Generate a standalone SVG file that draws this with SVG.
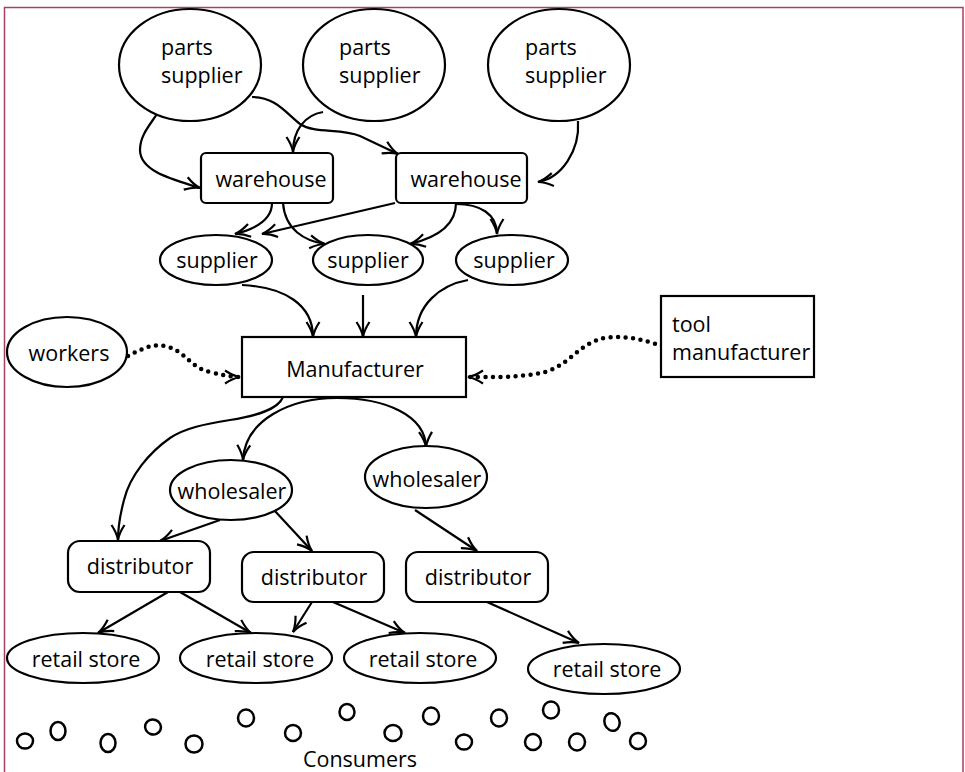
<svg xmlns="http://www.w3.org/2000/svg" width="965" height="772" viewBox="0 0 965 772">
<defs>
<style>
.n{fill:#fff;stroke:#000;stroke-width:2.2}
.t{font-family:"Open Sans","Noto Sans",sans-serif;font-size:21.5px;fill:#000}
.m{text-anchor:middle}
.c{fill:none;stroke:#000;stroke-width:2.2}
.d{fill:none;stroke:#000;stroke-width:4.5;stroke-dasharray:0 7.5;stroke-linecap:round}
.o{fill:none;stroke:#000;stroke-width:2.5}
</style>
<marker id="a" viewBox="-17 -9 19 18" refX="0" refY="0" markerWidth="19" markerHeight="18" orient="auto" markerUnits="userSpaceOnUse">
<path d="M-15,-6.5 Q-7,-1.2 0,0 Q-7,1.2 -15,6.5" fill="none" stroke="#000" stroke-width="2.2"/>
</marker>
</defs>
<rect width="965" height="772" fill="#fff"/>
<path d="M4.5,772 V7.5 H963 V772" fill="none" stroke="#a8405e" stroke-width="1.5"/>

<g id="connectors">
<path class="c" marker-end="url(#a)" d="M159,111 C150,125 140,135 140,150 C140,172 175,180 200,188"/>
<path class="c" marker-end="url(#a)" d="M252,97 C275,97 285,112 300,124 C315,134 340,128 360,136 L398,154"/>
<path class="c" marker-end="url(#a)" d="M323,112 C305,115 293,130 293,152"/>
<path class="c" marker-end="url(#a)" d="M578,121 C580,150 562,178 538,182"/>
<path class="c" marker-end="url(#a)" d="M272,203 C272,220 255,229 235,234"/>
<path class="c" marker-end="url(#a)" d="M283,203 C285,230 305,241 325,244"/>
<path class="c" marker-end="url(#a)" d="M395,203 L262,234"/>
<path class="c" marker-end="url(#a)" d="M456,203 C456,226 435,238 410,244"/>
<path class="c" marker-end="url(#a)" d="M456,204 C480,204 497,214 497,234"/>
<path class="c" marker-end="url(#a)" d="M242,285 C285,287 313,305 313,337"/>
<path class="c" marker-end="url(#a)" d="M363,295 L363,337"/>
<path class="c" marker-end="url(#a)" d="M468,280 C440,285 416,305 416,337"/>
<path class="d" marker-end="url(#a)" d="M128,356 C140,350 152,343 165,346 C185,350 190,368 210,372 C222,375 232,377 240,377"/>
<path class="d" marker-end="url(#a)" d="M662,346 C645,340 625,335 605,338 C580,342 570,365 545,372 C520,378 490,377 468,377"/>
<path class="c" marker-end="url(#a)" d="M283,397 C278,410 255,416 230,420 C205,424 185,428 170,438 C150,452 130,475 124,500 C120,515 118,525 118,540"/>
<path class="c" marker-end="url(#a)" d="M337,398 C290,398 245,420 243,460"/>
<path class="c" marker-end="url(#a)" d="M337,398 C385,398 425,415 426,447"/>
<path class="c" marker-end="url(#a)" d="M220,520 L160,541"/>
<path class="c" marker-end="url(#a)" d="M274,510 L312,551"/>
<path class="c" marker-end="url(#a)" d="M415,510 L477,551"/>
<path class="c" marker-end="url(#a)" d="M168,592 L98,633"/>
<path class="c" marker-end="url(#a)" d="M180,592 L251,633"/>
<path class="c" marker-end="url(#a)" d="M312,602 L293,632"/>
<path class="c" marker-end="url(#a)" d="M333,602 L405,633"/>
<path class="c" marker-end="url(#a)" d="M487,602 L579,643"/>
</g>

<g id="parts1"><ellipse class="n" cx="190" cy="65" rx="71" ry="56"/><text class="t" x="161" y="55">parts</text><text class="t" x="161" y="83">supplier</text></g>
<g id="parts2"><ellipse class="n" cx="374" cy="65" rx="71" ry="56"/><text class="t" x="339" y="55">parts</text><text class="t" x="339" y="83">supplier</text></g>
<g id="parts3"><ellipse class="n" cx="559" cy="65" rx="71" ry="56"/><text class="t" x="525" y="55">parts</text><text class="t" x="525" y="83">supplier</text></g>

<g id="warehouse1"><rect class="n" x="201" y="153" width="132" height="50" rx="5"/><text class="t m" x="271" y="187">warehouse</text></g>
<g id="warehouse2"><rect class="n" x="396" y="153" width="131" height="50" rx="5"/><text class="t m" x="466" y="187">warehouse</text></g>

<g id="supplier1"><ellipse class="n" cx="216" cy="260" rx="56" ry="25"/><text class="t m" x="217" y="268">supplier</text></g>
<g id="supplier2"><ellipse class="n" cx="368" cy="260" rx="55" ry="25"/><text class="t m" x="368" y="268">supplier</text></g>
<g id="supplier3"><ellipse class="n" cx="512" cy="260" rx="56" ry="25"/><text class="t m" x="514" y="268">supplier</text></g>

<g id="manufacturer"><rect class="n" x="242" y="337" width="224" height="60"/><text class="t m" x="355" y="377">Manufacturer</text></g>
<g id="workers"><ellipse class="n" cx="67" cy="352" rx="60" ry="35"/><text class="t m" x="69" y="361">workers</text></g>
<g id="tool"><rect class="n" x="661" y="296" width="153" height="81"/><text class="t" x="672" y="332">tool</text><text class="t" x="672" y="360">manufacturer</text></g>

<g id="wholesaler1"><ellipse class="n" cx="231" cy="490" rx="61" ry="30"/><text class="t m" x="232" y="499">wholesaler</text></g>
<g id="wholesaler2"><ellipse class="n" cx="426" cy="477" rx="61" ry="31"/><text class="t m" x="427" y="487">wholesaler</text></g>

<g id="distributor1"><rect class="n" x="68" y="541" width="142" height="51" rx="12"/><text class="t m" x="140" y="574">distributor</text></g>
<g id="distributor2"><rect class="n" x="242" y="552" width="142" height="50" rx="12"/><text class="t m" x="314" y="585">distributor</text></g>
<g id="distributor3"><rect class="n" x="406" y="552" width="142" height="50" rx="12"/><text class="t m" x="478" y="585">distributor</text></g>

<g id="retail1"><ellipse class="n" cx="83" cy="658" rx="76" ry="25"/><text class="t m" x="86" y="667">retail store</text></g>
<g id="retail2"><ellipse class="n" cx="256" cy="658" rx="76" ry="25"/><text class="t m" x="260" y="667">retail store</text></g>
<g id="retail3"><ellipse class="n" cx="420" cy="658" rx="76" ry="25"/><text class="t m" x="423" y="667">retail store</text></g>
<g id="retail4"><ellipse class="n" cx="604" cy="669" rx="76" ry="25"/><text class="t m" x="607" y="677">retail store</text></g>

<g id="consumers">
<ellipse class="o" cx="25" cy="741" rx="8" ry="7.5"/>
<ellipse class="o" cx="58" cy="731" rx="7.5" ry="9"/>
<ellipse class="o" cx="108" cy="743" rx="7.5" ry="9"/>
<ellipse class="o" cx="153" cy="727" rx="8" ry="7.5" transform="rotate(20 153 727)"/>
<ellipse class="o" cx="194" cy="744" rx="8.5" ry="8.5"/>
<ellipse class="o" cx="246" cy="718" rx="8" ry="8.5"/>
<ellipse class="o" cx="293" cy="733" rx="8" ry="8"/>
<ellipse class="o" cx="347" cy="712" rx="7.5" ry="8"/>
<ellipse class="o" cx="393" cy="733" rx="8.5" ry="8"/>
<ellipse class="o" cx="431" cy="716" rx="8" ry="8.5"/>
<ellipse class="o" cx="464" cy="742" rx="8" ry="7.5"/>
<ellipse class="o" cx="499" cy="718" rx="8" ry="8.5"/>
<ellipse class="o" cx="533" cy="742" rx="8" ry="8"/>
<ellipse class="o" cx="551" cy="710" rx="8" ry="8.5"/>
<ellipse class="o" cx="577" cy="742" rx="8" ry="8.5"/>
<ellipse class="o" cx="612" cy="722" rx="7.5" ry="9" transform="rotate(-20 612 722)"/>
<ellipse class="o" cx="638" cy="741" rx="8" ry="8"/>
<text class="t m" x="360" y="767">Consumers</text>
</g>
</svg>
